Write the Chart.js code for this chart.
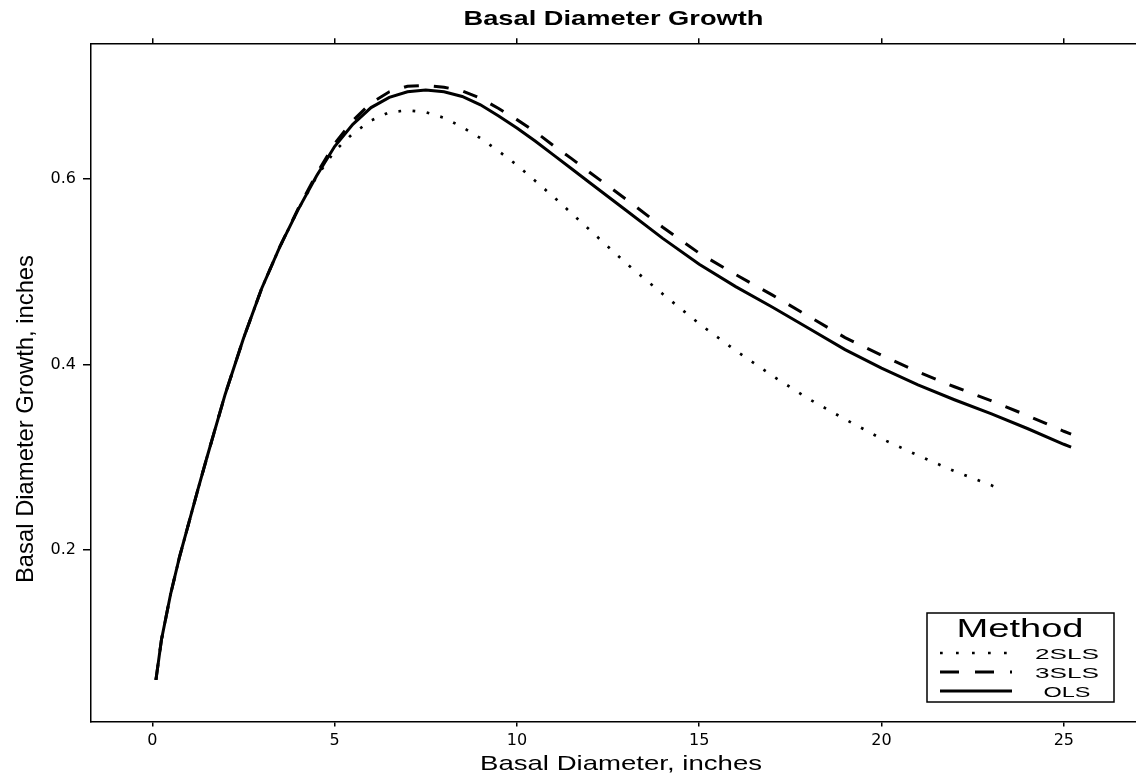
<!DOCTYPE html>
<html>
<head>
<meta charset="utf-8">
<title>Basal Diameter Growth</title>
<script src="https://cdn.jsdelivr.net/npm/chart.js@4.4.0/dist/chart.umd.min.js"></script>
<style>
  html, body { margin: 0; padding: 0; background: #fff; }
  #wrap { width: 1136px; height: 775px; }
</style>
</head>
<body>
<div id="wrap"><canvas id="growthChart" width="1136" height="775"></canvas></div>
<script>
// Basal diameter (inches) for the OLS and 3SLS curves
const diameter = [0.1, 0.25, 0.5, 0.75, 1, 1.25, 1.5, 2, 2.5, 3, 3.5, 4, 4.5, 5, 5.5, 6, 6.5, 7, 7.5, 8,
  8.5, 9, 9.5, 10, 10.5, 11, 11.5, 12, 13, 14, 15, 16, 17, 18, 19, 20, 21, 22, 23, 24, 25, 25.2];
const growthOLS = [0.060, 0.103, 0.152, 0.193, 0.229, 0.265, 0.300, 0.368, 0.428, 0.482, 0.527, 0.567, 0.603, 0.635, 0.659, 0.677, 0.688, 0.694, 0.696, 0.694,
  0.689, 0.680, 0.668, 0.655, 0.641, 0.626, 0.611, 0.596, 0.566, 0.536, 0.508, 0.484, 0.462, 0.439, 0.416, 0.396, 0.378, 0.362, 0.347, 0.331, 0.314, 0.311];
const growth3SLS = [0.060, 0.103, 0.152, 0.193, 0.229, 0.265, 0.300, 0.368, 0.428, 0.482, 0.527, 0.568, 0.605, 0.638, 0.663, 0.682, 0.694, 0.700, 0.701, 0.699,
  0.695, 0.687, 0.676, 0.664, 0.651, 0.636, 0.622, 0.607, 0.578, 0.548, 0.520, 0.497, 0.475, 0.452, 0.429, 0.410, 0.392, 0.376, 0.361, 0.345, 0.328, 0.325];

// 2SLS curve stops earlier
const diameter2SLS = [0.1, 0.25, 0.5, 0.75, 1, 1.25, 1.5, 2, 2.5, 3, 3.5, 4, 4.5, 5, 5.5, 6, 6.5, 7, 7.5, 8,
  8.5, 9, 9.5, 10, 10.5, 11, 11.5, 12, 13, 14, 15, 16, 17, 18, 19, 20, 21, 22, 23, 23.2];
const growth2SLS = [0.060, 0.103, 0.152, 0.193, 0.229, 0.265, 0.300, 0.368, 0.428, 0.482, 0.527, 0.567, 0.602, 0.630, 0.649, 0.663, 0.672, 0.674, 0.672, 0.666,
  0.656, 0.644, 0.630, 0.615, 0.598, 0.581, 0.563, 0.545, 0.509, 0.476, 0.444, 0.415, 0.388, 0.363, 0.341, 0.320, 0.302, 0.285, 0.270, 0.2665];

// Tick labels
const xTicks = [0, 5, 10, 15, 20, 25];
const yTicks = [0.2, 0.4, 0.6];

const methods = ['2SLS', '3SLS', 'OLS'];

function points(xs, ys) {
  return xs.map(function (x, i) { return { x: x, y: ys[i] }; });
}

// Draw text squeezed / stretched to a given width
function fitText(ctx, text, x, y, font, width, angle) {
  ctx.save();
  ctx.font = font;
  var w = ctx.measureText(text).width;
  ctx.translate(x, y);
  if (angle) ctx.rotate(angle);
  ctx.scale(width / w, 1);
  ctx.textAlign = 'center';
  ctx.textBaseline = 'alphabetic';
  ctx.fillStyle = '#000';
  ctx.fillText(text, 0, 0);
  ctx.restore();
}

// Titles and the "Method" legend box
const decorations = {
  id: 'decorations',
  afterDraw: function (chart) {
    var ctx = chart.ctx;
    var area = chart.chartArea;
    var mid = (area.left + area.right) / 2;

    fitText(ctx, 'Basal Diameter Growth', mid, 25, 'bold 21px "Liberation Sans", Arial, sans-serif', 300);
    fitText(ctx, 'Basal Diameter, inches', 621, 770, '21px "Liberation Sans", Arial, sans-serif', 282);
    fitText(ctx, 'Basal Diameter Growth, inches', 33, 419, '24px "Liberation Sans", Arial, sans-serif', 328, -Math.PI / 2);

    // legend box
    ctx.save();
    ctx.fillStyle = '#fff';
    ctx.fillRect(927, 613, 187, 89);
    ctx.strokeStyle = '#000';
    ctx.lineWidth = 1.5;
    ctx.strokeRect(927, 613, 187, 89);
    ctx.restore();

    fitText(ctx, 'Method', 1020, 637, '26px "Liberation Sans", Arial, sans-serif', 127);

    var rowY = [653, 672, 691];
    var labelW = [64, 64, 47];
    chart.data.datasets.forEach(function (ds, i) {
      ctx.save();
      ctx.strokeStyle = '#000';
      ctx.lineWidth = ds.borderWidth;
      ctx.setLineDash(ds.legendDash);
      ctx.beginPath();
      ctx.moveTo(940, rowY[i]);
      ctx.lineTo(1012, rowY[i]);
      ctx.stroke();
      ctx.restore();
      fitText(ctx, ds.label, 1067, rowY[i] + 5.5, '15px "Liberation Sans", Arial, sans-serif', labelW[i]);
    });
  }
};

const tickFont = { family: '"DejaVu Sans", sans-serif', size: 16 };

const ctxGrowth = document.getElementById('growthChart').getContext('2d');
const growthChart = new Chart(ctxGrowth, {
  type: 'scatter',
  data: {
    datasets: [{
      label: methods[0],
      data: points(diameter2SLS, growth2SLS),
      borderColor: '#000',
      borderWidth: 2.7,
      borderDash: [2.7, 11.5],
      legendDash: [2.7, 13.3],
      showLine: true,
      pointRadius: 0,
      tension: 0
    }, {
      label: methods[1],
      data: points(diameter, growth3SLS),
      borderColor: '#000',
      borderWidth: 3,
      borderDash: [15, 15],
      legendDash: [19, 16],
      showLine: true,
      pointRadius: 0,
      tension: 0
    }, {
      label: methods[2],
      data: points(diameter, growthOLS),
      borderColor: '#000',
      borderWidth: 3,
      legendDash: [],
      showLine: true,
      pointRadius: 0,
      tension: 0
    }]
  },
  options: {
    responsive: false,
    animation: false,
    layout: { padding: 0 },
    plugins: {
      legend: { display: false },
      title: { display: false },
      tooltip: { enabled: false }
    },
    scales: {
      x: {
        type: 'linear',
        position: 'bottom',
        min: -1.681,
        max: 26.98,
        afterBuildTicks: function (scale) { scale.ticks = xTicks.map(function (v) { return { value: v }; }); },
        afterFit: function (scale) { scale.height = 53.5; },
        ticks: {
          color: '#000', font: tickFont, padding: 5, maxRotation: 0, autoSkip: false,
          callback: function (v) { return String(v); }
        },
        grid: { drawOnChartArea: false, tickLength: 5, color: '#000', lineWidth: 1.5 },
        border: { color: '#000', width: 1.5 }
      },
      xTop: {
        type: 'linear',
        position: 'top',
        min: -1.681,
        max: 26.98,
        afterBuildTicks: function (scale) { scale.ticks = xTicks.map(function (v) { return { value: v }; }); },
        afterFit: function (scale) { scale.height = 43.3; },
        ticks: { callback: function () { return ''; }, autoSkip: false, maxRotation: 0 },
        grid: { drawOnChartArea: false, tickLength: 5, color: '#000', lineWidth: 1.5 },
        border: { color: '#000', width: 1.5 }
      },
      y: {
        type: 'linear',
        position: 'left',
        min: 0.01509,
        max: 0.7463,
        afterBuildTicks: function (scale) { scale.ticks = yTicks.map(function (v) { return { value: v }; }); },
        afterFit: function (scale) { scale.width = 91; },
        ticks: {
          color: '#000', font: tickFont, padding: 7,
          callback: function (v) { return v.toFixed(1); }
        },
        grid: { drawOnChartArea: false, tickLength: 8, color: '#000', lineWidth: 1.5 },
        border: { color: '#000', width: 1.5 }
      }
    }
  },
  plugins: [decorations]
});
</script>
</body>
</html>
